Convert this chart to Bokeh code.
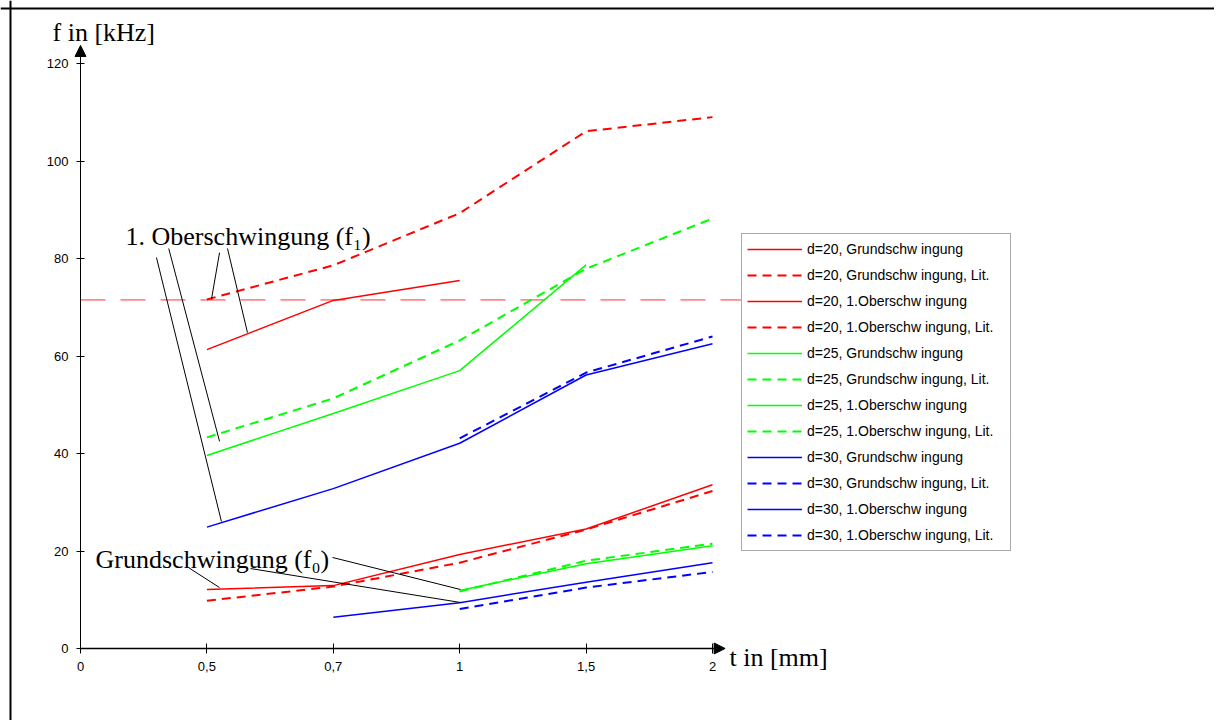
import numpy as np
from bokeh.plotting import figure
from bokeh.models import (LinearAxis, FixedTicker, Range1d, Legend, LegendItem,
                          Label, Arrow, NormalHead, Span)
from bokeh.embed import file_html
from bokeh.resources import INLINE

# ---------------- data ----------------
x_labels = ["0", "0,5", "0,7", "1", "1,5", "2"]
y_ticks = [0, 20, 40, 60, 80, 100, 120]

d20_grund     = [None, 12.1, 12.9, 19.3, 24.5, 33.6]
d20_grund_lit = [None, 9.8, 12.7, 17.6, 24.4, 32.3]
d20_ober      = [None, 61.3, 71.4, 75.5, None, None]
d20_ober_lit  = [None, 71.6, 78.6, 89.3, 106.1, 109.0]
d25_grund     = [None, None, None, 11.9, 17.4, 21.1]
d25_grund_lit = [None, None, None, 11.7, 18.0, 21.5]
d25_ober      = [None, 39.6, 48.2, 57.0, 78.7, None]
d25_ober_lit  = [None, 43.3, 51.3, 63.2, 77.9, 88.2]
d30_grund     = [None, None, 6.4, 9.4, 13.6, 17.6]
d30_grund_lit = [None, None, None, 8.1, 12.5, 15.7]
d30_ober      = [None, 24.9, 32.8, 42.1, 56.1, 62.5]
d30_ober_lit  = [None, None, None, 43.1, 56.6, 64.0]
ref_level = 71.5

series = [
    ("d=20, Grundschw ingung", d20_grund, "#ff0000", False),
    ("d=20, Grundschw ingung, Lit.", d20_grund_lit, "#ff0000", True),
    ("d=20, 1.Oberschw ingung", d20_ober, "#ff0000", False),
    ("d=20, 1.Oberschw ingung, Lit.", d20_ober_lit, "#ff0000", True),
    ("d=25, Grundschw ingung", d25_grund, "#00ff00", False),
    ("d=25, Grundschw ingung, Lit.", d25_grund_lit, "#00ff00", True),
    ("d=25, 1.Oberschw ingung", d25_ober, "#00ff00", False),
    ("d=25, 1.Oberschw ingung, Lit.", d25_ober_lit, "#00ff00", True),
    ("d=30, Grundschw ingung", d30_grund, "#0000ff", False),
    ("d=30, Grundschw ingung, Lit.", d30_grund_lit, "#0000ff", True),
    ("d=30, 1.Oberschw ingung", d30_ober, "#0000ff", False),
    ("d=30, 1.Oberschw ingung, Lit.", d30_ober_lit, "#0000ff", True),
]

# ---------------- figure ----------------
W, H = 1214, 720
PX_X, PX_Y = 126.4, 4.875
X0 = 80            # screen px of x=0 from the left
Y0 = H - 648       # screen px of y=0 from the bottom

p = figure(width=W, height=H,
           x_range=Range1d(-X0 / PX_X, (W - X0) / PX_X),
           y_range=Range1d(-Y0 / PX_Y, (H - Y0) / PX_Y),
           output_backend="svg", toolbar_location=None, tools="",
           x_axis_location=None, y_axis_location=None,
           min_border=0, outline_line_color=None,
           background_fill_color="white", border_fill_color="white")
p.grid.grid_line_color = None

axis_style = dict(axis_line_color=None, major_tick_line_color="black",
                  minor_tick_line_color=None,
                  major_label_text_font="Liberation Sans",
                  major_label_text_font_size="13px",
                  major_label_text_color="black",
                  major_label_standoff=8)

yaxis = LinearAxis(fixed_location=0, ticker=FixedTicker(ticks=y_ticks),
                   bounds=(0, 120), major_tick_in=4, major_tick_out=4, **axis_style)
p.add_layout(yaxis, "left")

xaxis = LinearAxis(fixed_location=0, ticker=FixedTicker(ticks=list(range(len(x_labels)))),
                   major_label_overrides={i: s for i, s in enumerate(x_labels)},
                   bounds=(0, len(x_labels) - 1), major_tick_in=5, major_tick_out=5,
                   **axis_style)
p.add_layout(xaxis, "below")

# axis lines with arrow heads
p.add_layout(Arrow(end=NormalHead(size=11, fill_color="black", line_color="black"),
                   x_start=0, y_start=0, x_end=0, y_end=123.7,
                   line_color="black", line_width=1))
p.add_layout(Arrow(end=NormalHead(size=11, fill_color="black", line_color="black"),
                   x_start=0, y_start=0, x_end=5.10, y_end=0,
                   line_color="black", line_width=1.5))

# horizontal reference line
p.line([0, 5.3], [ref_level, ref_level], line_color="#ff3030", line_width=1,
       line_dash="25 15")

# data lines
xs = np.arange(len(x_labels))
items = []
for label, vals, color, dashed in series:
    ys = np.array([np.nan if v is None else v for v in vals], dtype=float)
    if dashed:
        r = p.line(xs, ys, line_color=color, line_width=2, line_dash="9 6")
    else:
        r = p.line(xs, ys, line_color=color, line_width=1.5)
    items.append(LegendItem(label=label, renderers=[r]))

# leader lines for annotations
p.segment(x0=[0.601, 0.698, 1.100, 1.163, 0.854, 1.345, 1.994],
          y0=[80.2, 82.05, 81.2, 82.05, 16.6, 16.4, 18.67],
          x1=[1.115, 1.100, 1.036, 1.321, 1.100, 3.006, 3.006],
          y1=[26.05, 42.5, 71.6, 64.8, 12.5, 9.44, 12.1],
          line_color="black", line_width=1)

serif = dict(text_font="Liberation Serif", text_font_size="26px",
             text_color="black", text_baseline="alphabetic")
p.add_layout(Label(x=-0.2215, y=126.4, text="f in [kHz]", **serif))
p.add_layout(Label(x=0.356, y=84.5, text="1. Oberschwingung (f\u2081)", **serif))
p.add_layout(Label(x=0.119, y=18.26, text="Grundschwingung (f\u2080)", **serif))
p.add_layout(Label(x=5.134, y=-1.85, text="t in [mm]", **serif))

legend = Legend(items=items, location=(741, H - 551),
                label_text_font="Liberation Sans", label_text_font_size="14px",
                label_text_color="black",
                glyph_width=55, glyph_height=20, label_height=20, label_width=198,
                spacing=6, padding=5, margin=0, label_standoff=5,
                border_line_color="#555555", border_line_width=1,
                background_fill_color="white", background_fill_alpha=1.0)
p.add_layout(legend)

# page border (top and left)
p.add_layout(Span(location=(10 - X0) / PX_X, dimension="height",
                  line_color="black", line_width=2))
p.add_layout(Span(location=(648 - 8) / PX_Y, dimension="width",
                  line_color="black", line_width=2))

open("out.html", "w").write(file_html(p, INLINE))
